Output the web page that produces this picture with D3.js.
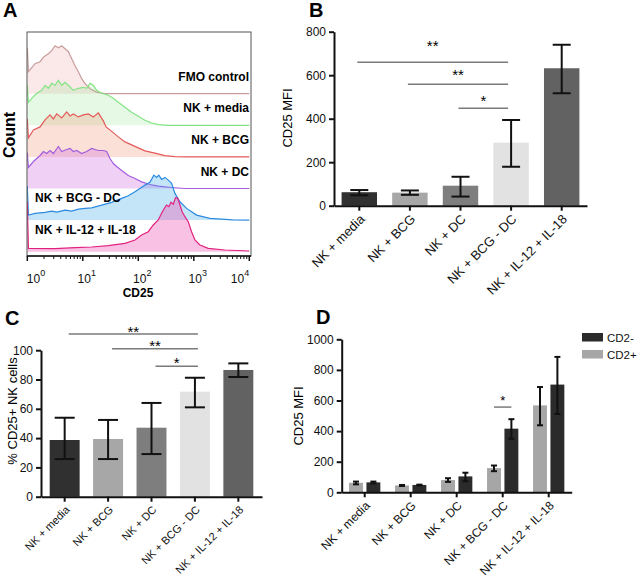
<!DOCTYPE html>
<html>
<head>
<meta charset="utf-8">
<script src="https://cdn.jsdelivr.net/npm/d3@7"></script>
<style>
  body { margin: 0; background: #fff; }
  svg { display: block; font-family: "Liberation Sans", Arial, sans-serif; }
</style>
</head>
<body>
<svg id="fig" width="639" height="577"></svg>
<script>
// ---------- data ----------
const groups = ["NK + media", "NK + BCG", "NK + DC", "NK + BCG - DC", "NK + IL-12 + IL-18"];
const barGreys = ["#303030", "#a7a7a7", "#7e7e7e", "#e2e2e2", "#626262"];

// panel B: CD25 MFI
const mfiMean = [62, 60, 92, 290, 632];
const mfiLow  = [48, 50, 42, 179, 517];
const mfiHigh = [72, 70, 133, 394, 740];
const mfiSig = [
    {from: 0, to: 3, at: 659, labelAt: 749, label: "**"},
    {from: 1, to: 3, at: 558, labelAt: 615, label: "**"},
    {from: 2, to: 3, at: 448, labelAt: 500, label: "*"}
];

// panel C: % CD25+ NK cells
const pctMean = [38.7, 39.4, 47.1, 71.7, 86.5];
const pctLow  = [25.7, 25.7, 29.1, 61.0, 81.7];
const pctHigh = [53.9, 52.4, 64.0, 81.2, 91.0];
const pctSig = [
    {from: 0, to: 3, at: 111, labelAt: 115, label: "**"},
    {from: 1, to: 3, at: 101, labelAt: 105, label: "**"},
    {from: 2, to: 3, at: 89, labelAt: 93.5, label: "*"}
];

// panel D: CD25 MFI split by CD2
const cd2Keys = ["CD2+", "CD2-"];
const cd2Colors = {"CD2+": "#a6a6a6", "CD2-": "#2b2b2b"};
const cd2PosMean = [62, 45, 80, 158, 568];
const cd2PosLow  = [52, 41, 68, 138, 438];
const cd2PosHigh = [70, 48, 92, 175, 688];
const cd2NegMean = [65, 48, 104, 416, 704];
const cd2NegLow  = [58, 45, 72, 350, 512];
const cd2NegHigh = [70, 50, 128, 478, 885];
const cd2Sig = [{from: "CD2+", to: "CD2-", group: 3, at: 557, labelAt: 620, label: "*"}];

// panel A: CD25 histograms, [log10 CD25, count]
const laneNames = ["FMO control", "NK + media", "NK + BCG", "NK + DC", "NK + BCG - DC", "NK + IL-12 + IL-18"];
const laneLine = ["#c99c9c", "#84e484", "#e45a5a", "#a35ee0", "#2b8ae0", "#e2227f"];
const laneFill = ["#ec9a9a", "#7ee07e", "#f09878", "#d26ee0", "#3aa4e8", "#f05cb6"];
const laneOpacity = [0.22, 0.2, 0.3, 0.32, 0.3, 0.38];
const histFmo = [[0,46],[0.02,22],[0.14,30],[0.23,32],[0.30,37],[0.38,40],[0.44,43],[0.50,48],[0.56,46],[0.62,48],[0.68,45],[0.74,42],[0.80,35],[0.86,28],[0.92,22],[0.98,15],[1.04,10],[1.13,5],[1.25,1.6],[1.40,0],[4,0]];
const histMedia = [[0,40],[0.02,23],[0.08,27],[0.17,32],[0.26,35],[0.32,40],[0.38,37],[0.44,42],[0.50,40],[0.56,45],[0.62,40],[0.68,43],[0.74,40],[0.83,35],[0.92,37],[1.01,38],[1.07,37],[1.13,42],[1.19,40],[1.25,35],[1.34,32],[1.46,30],[1.55,27],[1.64,23],[1.76,18],[1.88,13],[2.0,9],[2.12,5],[2.24,2.3],[2.36,0.7],[2.54,0],[4,0]];
const histBcg = [[0,38],[0.02,19],[0.11,27],[0.23,30],[0.32,37],[0.41,42],[0.47,38],[0.53,43],[0.62,39],[0.71,45],[0.77,41],[0.83,43],[0.92,40],[1.01,42],[1.10,43],[1.19,40],[1.28,44],[1.37,36],[1.42,30],[1.51,26],[1.64,20],[1.76,15],[1.88,12],[2.0,9],[2.12,6],[2.30,3.7],[2.48,1.3],[2.66,0.3],[2.84,0],[4,0]];
const histDc = [[0,36],[0.02,21],[0.11,27],[0.23,33],[0.29,37],[0.35,35],[0.41,38],[0.47,35],[0.56,42],[0.62,37],[0.71,39],[0.77,40],[0.83,37],[0.89,38],[0.98,35],[1.07,37],[1.16,40],[1.22,39],[1.28,38],[1.37,38],[1.43,37],[1.49,30],[1.55,25],[1.61,22],[1.70,18],[1.82,13],[1.94,10],[2.06,6.6],[2.21,4],[2.36,2.3],[2.60,1],[2.84,0],[4,0]];
const histBcgDc = [[0,34],[0.02,5],[0.14,6.7],[0.32,7.7],[0.44,9],[0.53,8],[0.68,10],[0.80,9],[0.92,11],[1.04,11.7],[1.16,12.3],[1.34,15],[1.52,17.7],[1.70,21.7],[1.82,24.3],[1.94,28.3],[2.03,31.7],[2.12,35],[2.21,37.7],[2.28,45],[2.33,42.7],[2.37,45],[2.42,40.7],[2.48,42.7],[2.54,40],[2.60,36.7],[2.66,26.7],[2.75,18.3],[2.87,11.7],[3.05,5],[3.29,1.7],[3.70,0.3],[4,0]];
const histIl = [[0,50],[0.02,3.4],[0.5,3],[0.86,4],[1.16,4.7],[1.46,6],[1.76,8.4],[1.94,11.7],[2.06,16.7],[2.18,20],[2.27,26.7],[2.36,31.7],[2.42,38.4],[2.47,43.4],[2.51,46.7],[2.55,45],[2.59,49.4],[2.63,47.4],[2.67,54],[2.71,53.4],[2.75,46.7],[2.79,40],[2.84,35],[2.90,30],[2.96,20],[3.02,11.7],[3.11,6.7],[3.26,3.4],[3.56,1.7],[4,0.7]];
const histograms = [histFmo, histMedia, histBcg, histDc, histBcgDc, histIl];
const decades = [0, 1, 2, 3, 4];

const svg = d3.select("#fig");

function letter(t, x, y) {
    svg.append("text").attr("x", x).attr("y", y)
        .attr("font-size", 20).attr("font-weight", "bold").text(t);
}
letter("A", 3, 17);
letter("B", 309, 17);
letter("C", 5, 325);
letter("D", 316, 324);

// ---------- panel A ----------
const xA = d3.scaleLog().domain([1, 1e4]).range([27.3, 249.3]);
const laneY = d3.scalePoint().domain(laneNames).range([93.7, 251.7]);
const hA = d3.scaleLinear().domain([0, 55]).range([0, 55]);

svg.append("defs").append("clipPath").attr("id", "clipA")
    .append("rect").attr("x", 27).attr("y", 0).attr("width", 224).attr("height", 256);

const gA = svg.append("g").attr("clip-path", "url(#clipA)");
histograms.forEach((h, i) => {
    const base = laneY(laneNames[i]);
    const area = d3.area()
        .x(d => xA(Math.pow(10, d[0])))
        .y0(base)
        .y1(d => base - hA(d[1]));
    const line = d3.line()
        .x(d => xA(Math.pow(10, d[0])))
        .y(d => base - hA(d[1]));
    gA.append("path").attr("d", area(h))
        .attr("fill", laneFill[i]).attr("fill-opacity", laneOpacity[i]);
    gA.append("path").attr("d", line(h))
        .attr("fill", "none").attr("stroke", laneLine[i]).attr("stroke-width", 1.2);
});

// frame
svg.append("rect").attr("x", 27).attr("y", 32).attr("width", 224).attr("height", 224)
    .attr("fill", "none").attr("stroke", "#555").attr("stroke-width", 1);

// lane labels
laneNames.forEach((n, i) => {
    const right = i < 4;
    svg.append("text")
        .attr("x", right ? 249 : 35)
        .attr("y", laneY(n) - (right ? 13 : 18))
        .attr("text-anchor", right ? "end" : "start")
        .attr("font-size", 12).attr("font-weight", "bold")
        .text(n);
});

// log axis
const axA = svg.append("g");
axA.append("line").attr("x1", 27).attr("x2", 251).attr("y1", 256).attr("y2", 256)
    .attr("stroke", "#111").attr("stroke-width", 1.5);
xA.ticks().forEach(t => {
    const major = Math.abs(Math.log10(t) % 1) < 1e-9;
    axA.append("line").attr("x1", xA(t)).attr("x2", xA(t))
        .attr("y1", 256).attr("y2", 256 + (major ? 5 : 3))
        .attr("stroke", "#111").attr("stroke-width", major ? 1.5 : 1);
});
decades.forEach(k => {
    const x = Math.max(36, Math.min(240, xA(Math.pow(10, k)) + 4));
    const t = axA.append("text").attr("x", x).attr("y", 283)
        .attr("text-anchor", "middle").attr("font-size", 12).attr("fill", "#111");
    t.append("tspan").text("10");
    t.append("tspan").attr("dy", -7).attr("font-size", 9).text(k);
});
svg.append("text").attr("x", 138).attr("y", 297).attr("text-anchor", "middle")
    .attr("font-size", 12).attr("font-weight", "bold").text("CD25");
svg.append("text").attr("transform", "translate(15,135) rotate(-90)")
    .attr("text-anchor", "middle").attr("font-size", 16).attr("font-weight", "bold").text("Count");

// ---------- bar panel helpers ----------
function styleAxis(g, fs) {
    g.selectAll(".domain").attr("stroke", "#111").attr("stroke-width", 2);
    g.selectAll(".tick line").attr("stroke", "#111").attr("stroke-width", 2);
    g.selectAll(".tick text").attr("font-size", fs).attr("fill", "#111")
        .attr("font-family", "Liberation Sans, Arial, sans-serif");
}

function xAxisRotated(xs, y0, fs) {
    const g = svg.append("g").attr("transform", `translate(0,${y0})`)
        .call(d3.axisBottom(xs).tickSize(5).tickSizeOuter(0));
    styleAxis(g, fs);
    g.selectAll(".tick text")
        .attr("x", 0).attr("y", 0).attr("dy", "0.35em")
        .attr("text-anchor", "end")
        .attr("transform", "translate(3,11) rotate(-45)");
    return g;
}

function yAxis(ys, x0, ticks, fs) {
    const g = svg.append("g").attr("transform", `translate(${x0},0)`)
        .call(d3.axisLeft(ys).tickValues(ticks).tickFormat(d3.format("d")).tickSize(5).tickSizeOuter(0));
    styleAxis(g, fs);
    return g;
}

function errorBar(x, yLo, yHi, capW) {
    const g = svg.append("g").attr("stroke", "#111").attr("stroke-width", 2);
    g.append("line").attr("x1", x).attr("x2", x).attr("y1", yLo).attr("y2", yHi);
    g.append("line").attr("x1", x - capW / 2).attr("x2", x + capW / 2).attr("y1", yLo).attr("y2", yLo);
    g.append("line").attr("x1", x - capW / 2).attr("x2", x + capW / 2).attr("y1", yHi).attr("y2", yHi);
}

function sigLine(x1, x2, y, yLabel, label, fs) {
    svg.append("line").attr("x1", x1).attr("x2", x2).attr("y1", y).attr("y2", y)
        .attr("stroke", "#7a7a7a").attr("stroke-width", 1.5);
    svg.append("text").attr("x", (x1 + x2) / 2).attr("y", yLabel + 0.57 * fs)
        .attr("text-anchor", "middle").attr("font-size", fs).attr("fill", "#000").text(label);
}

function simpleBars(xs, ys, mean, lo, hi, capW) {
    svg.append("g").selectAll("rect").data(groups).join("rect")
        .attr("x", d => xs(d)).attr("width", xs.bandwidth())
        .attr("y", (d, i) => ys(mean[i]))
        .attr("height", (d, i) => ys(0) - ys(mean[i]))
        .attr("fill", (d, i) => barGreys[i]);
    groups.forEach((g, i) => errorBar(xs(g) + xs.bandwidth() / 2, ys(lo[i]), ys(hi[i]), capW));
}

// ---------- panel B ----------
const xB = d3.scaleBand().domain(groups).range([334, 587]).paddingInner(0.3).paddingOuter(0.15);
const yB = d3.scaleLinear().domain([0, 800]).range([205.7, 31.7]);
simpleBars(xB, yB, mfiMean, mfiLow, mfiHigh, 18);
mfiSig.forEach(s => {
    const c = i => xB(groups[i]) + xB.bandwidth() / 2;
    sigLine(c(s.from) - 2, c(s.to) - 3, yB(s.at), yB(s.labelAt), s.label, 15);
});
yAxis(yB, 334, [0, 200, 400, 600, 800], 12);
xAxisRotated(xB, 205.7, 13);
svg.append("text").attr("transform", "translate(292,118) rotate(-90)")
    .attr("text-anchor", "middle").attr("font-size", 13).text("CD25 MFI");

// ---------- panel C ----------
const xC = d3.scaleBand().domain(groups).range([41, 262]).paddingInner(0.31).paddingOuter(0.2);
const yC = d3.scaleLinear().domain([0, 100]).range([496.7, 350.2]);
simpleBars(xC, yC, pctMean, pctLow, pctHigh, 20);
pctSig.forEach(s => {
    const c = i => xC(groups[i]) + xC.bandwidth() / 2;
    sigLine(c(s.from) + 4, c(s.to) + 3, yC(s.at), yC(s.labelAt), s.label, 15);
});
yAxis(yC, 41, [0, 20, 40, 60, 80, 100], 12);
xAxisRotated(xC, 496.7, 11);
svg.append("text").attr("transform", "translate(17,411) rotate(-90)")
    .attr("text-anchor", "middle").attr("font-size", 13).text("% CD25+ NK cells");

// ---------- panel D ----------
const xD = d3.scaleBand().domain(groups).range([341.7, 571.7]).paddingInner(0.32).paddingOuter(0.16);
const xD2 = d3.scaleBand().domain(cd2Keys).range([0, xD.bandwidth()]).paddingInner(0.2);
const yD = d3.scaleLinear().domain([0, 1000]).range([492.3, 339.3]);
const cd2Data = {
    "CD2+": {mean: cd2PosMean, lo: cd2PosLow, hi: cd2PosHigh},
    "CD2-": {mean: cd2NegMean, lo: cd2NegLow, hi: cd2NegHigh}
};
cd2Keys.forEach(k => {
    const s = cd2Data[k];
    svg.append("g").selectAll("rect").data(groups).join("rect")
        .attr("x", d => xD(d) + xD2(k)).attr("width", xD2.bandwidth())
        .attr("y", (d, i) => yD(s.mean[i]))
        .attr("height", (d, i) => yD(0) - yD(s.mean[i]))
        .attr("fill", cd2Colors[k]);
    groups.forEach((g, i) =>
        errorBar(xD(g) + xD2(k) + xD2.bandwidth() / 2, yD(s.lo[i]), yD(s.hi[i]), 6));
});
cd2Sig.forEach(s => {
    const g = groups[s.group];
    sigLine(xD(g) + xD2(s.from) + xD2.bandwidth() / 2, xD(g) + xD2(s.to) + xD2.bandwidth() / 2,
        yD(s.at), yD(s.labelAt), s.label, 13);
});
yAxis(yD, 341.7, [0, 200, 400, 600, 800, 1000], 12);
xAxisRotated(xD, 492.3, 12);
svg.append("text").attr("transform", "translate(303,416) rotate(-90)")
    .attr("text-anchor", "middle").attr("font-size", 13).text("CD25 MFI");

// legend
["CD2-", "CD2+"].forEach((k, i) => {
    svg.append("rect").attr("x", 582).attr("y", 333 + i * 17).attr("width", 21).attr("height", 8.5)
        .attr("fill", cd2Colors[k]);
    svg.append("text").attr("x", 607).attr("y", 341.5 + i * 17)
        .attr("font-size", 11.5).attr("fill", "#111").text(k);
});
</script>
</body>
</html>
